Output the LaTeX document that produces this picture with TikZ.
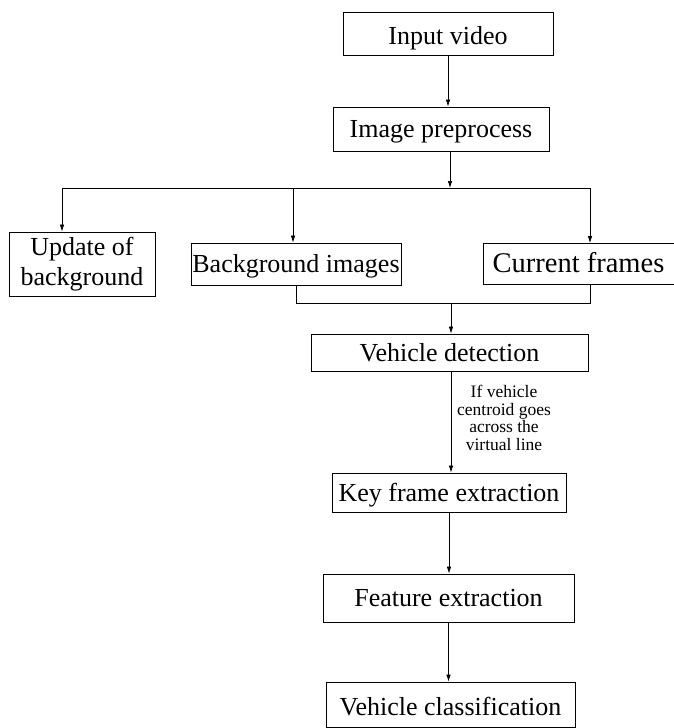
\documentclass[tikz,border=0pt]{standalone}
\usepackage{fontspec}
\setmainfont{Liberation Serif}
\usetikzlibrary{arrows.meta,positioning}

\begin{document}
\begin{tikzpicture}[x=1pt,y=-1pt]
        \tikzstyle{block} = [draw, line width=0.8pt, inner sep=0pt, align=center, font=\fontsize{26}{30}\selectfont]
        \tikzstyle{line} = [text height=20pt, text depth=3pt]
        \tikzstyle{arr} = [-{Latex[length=7pt,width=4.5pt]}, line width=0.7pt]
        \useasboundingbox (0,0) rectangle (674,728);
        \node[block, line, text height=24pt, minimum width=210pt, minimum height=43pt] (input) at (448,33.5) {Input video};
        \node[block, line, minimum width=216pt, minimum height=44pt] (prep) at (441,129) {Image preprocess};
        \node[block, minimum width=146pt, minimum height=64pt] (upd) at (82,264) {Update of\\background};
        \node[block, line, minimum width=210pt, minimum height=42pt] (bg) at (296,264) {Background images};
        \node[block, line, minimum width=191pt, minimum height=41pt, font=\fontsize{28.5}{32}\selectfont] (cur) at (578.5,264) {Current frames};
        \node[block, line, minimum width=277pt, minimum height=37pt] (vdet) at (449.5,352.5) {Vehicle detection};
        \node[align=center, inner sep=0pt, font=\fontsize{17.5}{17.7}\selectfont] (cond) at (504,418) {If vehicle\\centroid goes\\across the\\virtual line};
        \node[block, line, minimum width=234pt, minimum height=39pt] (key) at (449,492.5) {Key frame extraction};
        \node[block, line, minimum width=251pt, minimum height=48pt] (feat) at (448.5,598) {Feature extraction};
        \node[block, line, text height=24pt, minimum width=249pt, minimum height=45pt] (cls) at (450.5,704.5) {Vehicle classification};

        \coordinate (bus) at (450,188);
        \coordinate (busL) at (62,188);
        \coordinate (busM) at (293,188);
        \coordinate (busR) at (590,188);
        \coordinate (join) at (451,303);

        \draw[arr] (input) -- (input |- prep.north);
        \draw[arr] (prep.south -| bus) -- (bus);
        \draw[line width=0.7pt] (busL) -- (busR);
        \draw[arr] (busL) -- (busL |- upd.north);
        \draw[arr] (busM) -- (busM |- bg.north);
        \draw[arr] (busR) -- (busR |- cur.north);
        \draw[line width=0.7pt] (bg.south) |- (join);
        \draw[line width=0.7pt] (cur.south -| busR) |- (join);
        \draw[arr] (join) -- (join |- vdet.north);
        \draw[arr] (vdet.south -| join) -- (key.north -| join);
        \draw[arr] (key.south) -- (key.south |- feat.north);
        \draw[arr] (feat.south) -- (feat.south |- cls.north);
\end{tikzpicture}
\end{document}
